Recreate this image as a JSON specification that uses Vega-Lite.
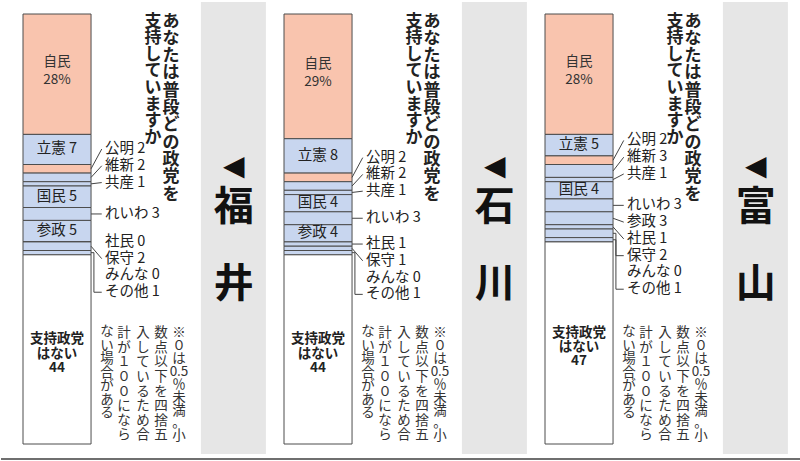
{
  "$schema": "https://vega.github.io/schema/vega-lite/v6.json",
  "padding": 0,
  "background": "white",
  "bounds": "flush",
  "config": {
    "view": {"stroke": null},
    "font": "Noto Sans CJK JP",
    "axis": {"disable": true}
  },
  "data": {
    "values": [
      {"pref": "福井", "party": "自民", "value": 28},
      {"pref": "福井", "party": "立憲", "value": 7},
      {"pref": "福井", "party": "公明", "value": 2},
      {"pref": "福井", "party": "維新", "value": 2},
      {"pref": "福井", "party": "共産", "value": 1},
      {"pref": "福井", "party": "国民", "value": 5},
      {"pref": "福井", "party": "れいわ", "value": 3},
      {"pref": "福井", "party": "参政", "value": 5},
      {"pref": "福井", "party": "社民", "value": 0},
      {"pref": "福井", "party": "保守", "value": 2},
      {"pref": "福井", "party": "みんな", "value": 0},
      {"pref": "福井", "party": "その他", "value": 1},
      {"pref": "福井", "party": "支持政党はない", "value": 44},
      {"pref": "石川", "party": "自民", "value": 29},
      {"pref": "石川", "party": "立憲", "value": 8},
      {"pref": "石川", "party": "公明", "value": 2},
      {"pref": "石川", "party": "維新", "value": 2},
      {"pref": "石川", "party": "共産", "value": 1},
      {"pref": "石川", "party": "国民", "value": 4},
      {"pref": "石川", "party": "れいわ", "value": 3},
      {"pref": "石川", "party": "参政", "value": 4},
      {"pref": "石川", "party": "社民", "value": 1},
      {"pref": "石川", "party": "保守", "value": 1},
      {"pref": "石川", "party": "みんな", "value": 0},
      {"pref": "石川", "party": "その他", "value": 1},
      {"pref": "石川", "party": "支持政党はない", "value": 44},
      {"pref": "富山", "party": "自民", "value": 28},
      {"pref": "富山", "party": "立憲", "value": 5},
      {"pref": "富山", "party": "公明", "value": 2},
      {"pref": "富山", "party": "維新", "value": 3},
      {"pref": "富山", "party": "共産", "value": 1},
      {"pref": "富山", "party": "国民", "value": 4},
      {"pref": "富山", "party": "れいわ", "value": 3},
      {"pref": "富山", "party": "参政", "value": 3},
      {"pref": "富山", "party": "社民", "value": 1},
      {"pref": "富山", "party": "保守", "value": 2},
      {"pref": "富山", "party": "みんな", "value": 0},
      {"pref": "富山", "party": "その他", "value": 1},
      {"pref": "富山", "party": "支持政党はない", "value": 47}
    ]
  },
  "transform": [
    {"window": [{"op": "row_number", "as": "order"}], "groupby": ["pref"]},
    {"stack": "value", "groupby": ["pref"], "sort": [{"field": "order", "order": "ascending"}], "as": ["y0", "y1"]},
    {"calculate": "(datum.y0 + datum.y1) / 2", "as": "mid"},
    {"calculate": "datum.value < 4 ? 1 : 0", "as": "out"},
    {"calculate": "1 - datum.out", "as": "inside"},
    {"window": [{"op": "sum", "field": "inside", "as": "seg"}], "groupby": ["pref"], "sort": [{"field": "order", "order": "ascending"}], "frame": [null, 0]},
    {"window": [{"op": "row_number", "as": "i"}], "groupby": ["pref", "out"], "sort": [{"field": "order", "order": "ascending"}]},
    {"calculate": "(datum.seg == 2 ? datum.mid - 4.6 : datum.mid) - (datum.i - 1) * 3.9", "as": "k"},
    {"window": [{"op": "max", "field": "k", "as": "km"}], "groupby": ["pref", "out"], "sort": [{"field": "order", "order": "ascending"}], "frame": [null, 0]},
    {"calculate": "datum.km + (datum.i - 1) * 3.9", "as": "ly"},
    {"calculate": "abs(datum.ly - datum.mid)", "as": "gap"}
  ],
  "facet": {
    "column": {
      "field": "pref",
      "type": "nominal",
      "sort": ["福井", "石川", "富山"],
      "title": null,
      "header": {"labels": false, "title": null}
    }
  },
  "spacing": 0,
  "spec": {
    "width": 261,
    "height": 461,
    "layer": [
      {
        "transform": [{"filter": "datum.order == 1"}],
        "mark": {"type": "rect", "color": "#e6e6e6"},
        "encoding": {
          "x": {"datum": 76.6, "type": "quantitative", "scale": {"domain": [0, 100], "nice": false, "zero": false}, "axis": null},
          "x2": {"datum": 101.5},
          "y": {"datum": -2.8, "type": "quantitative", "scale": {"domain": [-3.256, 103.95], "reverse": true, "nice": false, "zero": false}, "axis": null},
          "y2": {"datum": 102.3}
        }
      },
      {
        "transform": [{"filter": "datum.order == 1"}],
        "mark": {"type": "rule", "color": "#6f6f6f", "strokeWidth": 2},
        "encoding": {
          "x": {"datum": 0, "type": "quantitative"},
          "x2": {"datum": 107},
          "y": {"datum": 103.5, "type": "quantitative"}
        }
      },
      {
        "mark": {"type": "rect", "stroke": "#4d4d4d", "strokeWidth": 1},
        "encoding": {
          "x": {"datum": 8.43, "type": "quantitative"},
          "x2": {"datum": 34.5},
          "y": {"field": "y0", "type": "quantitative"},
          "y2": {"field": "y1"},
          "fill": {
            "field": "party",
            "type": "nominal",
            "scale": {
              "domain": ["自民", "立憲", "公明", "維新", "共産", "国民", "れいわ", "参政", "社民", "保守", "みんな", "その他", "支持政党はない"],
              "range": ["#f9c4ae", "#c8d6ef", "#f9c4ae", "#c8d6ef", "#c8d6ef", "#c8d6ef", "#c8d6ef", "#c8d6ef", "#c8d6ef", "#c8d6ef", "#c8d6ef", "#c8d6ef", "#ffffff"]
            },
            "legend": null
          }
        }
      },
      {
        "transform": [
          {"filter": "datum.party == '自民'"},
          {"calculate": "datum.party + '\\n' + datum.value + '%'", "as": "lab"}
        ],
        "mark": {"type": "text", "lineBreak": "\n", "fontSize": 13.5, "lineHeight": 18, "dy": -12, "color": "#333333", "align": "center", "baseline": "middle"},
        "encoding": {
          "x": {"datum": 21.46, "type": "quantitative"},
          "y": {"field": "mid", "type": "quantitative"},
          "text": {"field": "lab"}
        }
      },
      {
        "transform": [
          {"filter": "datum.out == 0 && datum.party != '自民' && datum.party != '支持政党はない'"},
          {"calculate": "datum.party + ' ' + datum.value", "as": "lab"}
        ],
        "mark": {"type": "text", "fontSize": 14.5, "color": "#222222", "align": "center", "baseline": "middle"},
        "encoding": {
          "x": {"datum": 21.46, "type": "quantitative"},
          "y": {"field": "mid", "type": "quantitative"},
          "text": {"field": "lab"}
        }
      },
      {
        "transform": [
          {"filter": "datum.party == '支持政党はない'"},
          {"calculate": "substring(datum.party, 0, 4) + '\\n' + substring(datum.party, 4) + '\\n' + datum.value", "as": "lab"}
        ],
        "mark": {"type": "text", "lineBreak": "\n", "fontSize": 13.5, "lineHeight": 14.2, "dy": -10, "fontWeight": "bold", "color": "#222222", "align": "center", "baseline": "middle"},
        "encoding": {
          "x": {"datum": 21.46, "type": "quantitative"},
          "y": {"field": "mid", "type": "quantitative"},
          "text": {"field": "lab"}
        }
      },
      {
        "transform": [
          {"filter": "datum.out == 1"},
          {"calculate": "datum.party + ' ' + datum.value", "as": "lab"}
        ],
        "mark": {"type": "text", "fontSize": 14.5, "color": "#222222", "align": "left", "baseline": "middle"},
        "encoding": {
          "x": {"datum": 39.8, "type": "quantitative"},
          "y": {"field": "ly", "type": "quantitative"},
          "text": {"field": "lab"}
        }
      },
      {
        "transform": [{"filter": "datum.out == 1 && datum.value > 0 && datum.gap < 5"}],
        "mark": {"type": "rule", "color": "#444444", "strokeWidth": 1},
        "encoding": {
          "x": {"datum": 34.5, "type": "quantitative"},
          "x2": {"datum": 38.6},
          "y": {"field": "mid", "type": "quantitative"},
          "y2": {"field": "ly"}
        }
      },
      {
        "transform": [{"filter": "datum.out == 1 && datum.value > 0 && datum.gap >= 5"}],
        "mark": {"type": "rule", "color": "#444444", "strokeWidth": 1},
        "encoding": {
          "x": {"datum": 34.5, "type": "quantitative"},
          "x2": {"datum": 35.6},
          "y": {"field": "mid", "type": "quantitative"}
        }
      },
      {
        "transform": [{"filter": "datum.out == 1 && datum.value > 0 && datum.gap >= 5"}],
        "mark": {"type": "rule", "color": "#444444", "strokeWidth": 1},
        "encoding": {
          "x": {"datum": 35.6, "type": "quantitative"},
          "y": {"field": "mid", "type": "quantitative"},
          "y2": {"field": "ly"}
        }
      },
      {
        "transform": [{"filter": "datum.out == 1 && datum.value > 0 && datum.gap >= 5"}],
        "mark": {"type": "rule", "color": "#444444", "strokeWidth": 1},
        "encoding": {
          "x": {"datum": 35.6, "type": "quantitative"},
          "x2": {"datum": 38.6},
          "y": {"field": "ly", "type": "quantitative"}
        }
      },
      {
        "transform": [{"filter": "datum.order == 1"}],
        "mark": {"type": "text", "text": ["あ", "な", "た", "は", "普", "段", "ど", "の", "政", "党", "を"], "fontSize": 17, "lineHeight": 17.3, "fontWeight": "bold", "color": "#222222", "align": "center", "baseline": "top"},
        "encoding": {
          "x": {"datum": 65.1, "type": "quantitative"},
          "y": {"datum": -0.1, "type": "quantitative"}
        }
      },
      {
        "transform": [{"filter": "datum.order == 1"}],
        "mark": {"type": "text", "text": ["支", "持", "し", "て", "い", "ま", "す", "か"], "fontSize": 17, "lineHeight": 16.6, "fontWeight": "bold", "color": "#222222", "align": "center", "baseline": "top"},
        "encoding": {
          "x": {"datum": 58.2, "type": "quantitative"},
          "y": {"datum": -0.1, "type": "quantitative"}
        }
      },
      {
        "transform": [{"filter": "datum.order == 1"}],
        "mark": {"type": "text", "text": ["※", "０", "は", "0.5", "％", "未", "満", "。", "小"], "fontSize": 13.5, "lineHeight": 12.9, "color": "#333333", "align": "center", "baseline": "top"},
        "encoding": {
          "x": {"datum": 68.2, "type": "quantitative"},
          "y": {"datum": 72.6, "type": "quantitative"}
        }
      },
      {
        "transform": [{"filter": "datum.order == 1"}],
        "mark": {"type": "text", "text": ["数", "点", "以", "下", "を", "四", "捨", "五"], "fontSize": 13.5, "lineHeight": 14.6, "color": "#333333", "align": "center", "baseline": "top"},
        "encoding": {
          "x": {"datum": 61.3, "type": "quantitative"},
          "y": {"datum": 72.6, "type": "quantitative"}
        }
      },
      {
        "transform": [{"filter": "datum.order == 1"}],
        "mark": {"type": "text", "text": ["入", "し", "て", "い", "る", "た", "め", "合"], "fontSize": 13.5, "lineHeight": 14.6, "color": "#333333", "align": "center", "baseline": "top"},
        "encoding": {
          "x": {"datum": 54.4, "type": "quantitative"},
          "y": {"datum": 72.6, "type": "quantitative"}
        }
      },
      {
        "transform": [{"filter": "datum.order == 1"}],
        "mark": {"type": "text", "text": ["計", "が", "１", "０", "０", "に", "な", "ら"], "fontSize": 13.5, "lineHeight": 14.6, "color": "#333333", "align": "center", "baseline": "top"},
        "encoding": {
          "x": {"datum": 47.1, "type": "quantitative"},
          "y": {"datum": 72.6, "type": "quantitative"}
        }
      },
      {
        "transform": [{"filter": "datum.order == 1"}],
        "mark": {"type": "text", "text": ["な", "い", "場", "合", "が", "あ", "る"], "fontSize": 13.5, "lineHeight": 13.6, "color": "#333333", "align": "center", "baseline": "top"},
        "encoding": {
          "x": {"datum": 40.6, "type": "quantitative"},
          "y": {"datum": 72.3, "type": "quantitative"}
        }
      },
      {
        "transform": [{"filter": "datum.order == 1"}],
        "mark": {"type": "text", "text": "◀", "font": "DejaVu Sans", "fontSize": 28, "color": "#111111", "align": "center", "baseline": "middle"},
        "encoding": {
          "x": {"datum": 89.2, "type": "quantitative"},
          "y": {"datum": 35.6, "type": "quantitative"}
        }
      },
      {
        "transform": [
          {"filter": "datum.order == 1"},
          {"calculate": "substring(datum.pref, 0, 1)", "as": "c1"}
        ],
        "mark": {"type": "text", "fontSize": 40, "fontWeight": "bold", "color": "#111111", "align": "center", "baseline": "middle"},
        "encoding": {
          "x": {"datum": 89.2, "type": "quantitative"},
          "y": {"datum": 45.1, "type": "quantitative"},
          "text": {"field": "c1"}
        }
      },
      {
        "transform": [
          {"filter": "datum.order == 1"},
          {"calculate": "substring(datum.pref, 1, 2)", "as": "c2"}
        ],
        "mark": {"type": "text", "fontSize": 40, "fontWeight": "bold", "color": "#111111", "align": "center", "baseline": "middle"},
        "encoding": {
          "x": {"datum": 89.2, "type": "quantitative"},
          "y": {"datum": 63.0, "type": "quantitative"},
          "text": {"field": "c2"}
        }
      }
    ]
  }
}
